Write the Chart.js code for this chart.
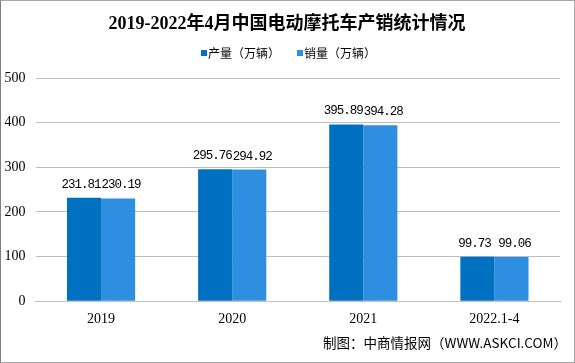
<!DOCTYPE html>
<html>
<head>
<meta charset="utf-8">
<script src="https://cdn.jsdelivr.net/npm/chart.js@4"></script>
<style>
  body { margin: 0; background: #fff; }
  #wrap { width: 573px; height: 361px; border: 1px solid #a6a6a6; border-left: 1px solid #7f7f7f; position: relative; }
</style>
</head>
<body>
<div id="wrap"><canvas id="chart" width="573" height="361"></canvas></div>
<script>
const categories = ['2019', '2020', '2021', '2022.1-4'];
const production = [231.81, 295.76, 395.89, 99.73];
const sales = [230.19, 294.92, 394.28, 99.06];
const seriesNames = ['产量（万辆）', '销量（万辆）'];
const seriesColors = ['#0070c0', '#2e8fe0'];
const yTicks = [0, 100, 200, 300, 400, 500];
const titleText = '2019-2022年4月中国电动摩托车产销统计情况';

const serif = '"Liberation Serif", "Noto Sans CJK SC", serif';
const mono = '"Liberation Mono", "DejaVu Sans Mono", monospace';
const cjk = '"Noto Sans CJK SC", sans-serif';

// title + legend drawn by hand so they sit where the original has them
const header = {
    id: 'header',
    afterDraw(chart) {
        const ctx = chart.ctx;
        ctx.save();
        ctx.fillStyle = '#000';
        ctx.textAlign = 'center';
        ctx.textBaseline = 'middle';
        ctx.font = 'bold 18px ' + serif;
        ctx.fillText(titleText, 286, 23);

        ctx.font = '12px ' + cjk;
        ctx.textAlign = 'left';
        let x = 200;
        seriesNames.forEach((name, i) => {
            ctx.fillStyle = seriesColors[i];
            ctx.fillRect(x, 49, 6, 6);
            ctx.fillStyle = '#000';
            ctx.fillText(name, x + 7, 52);
            x += 96;
        });
        ctx.restore();
    }
};

// value labels above each bar
const valueLabels = {
    id: 'valueLabels',
    afterDatasetsDraw(chart) {
        const ctx = chart.ctx;
        ctx.save();
        ctx.font = '12.5px ' + mono;
        ctx.letterSpacing = '-1px';
        ctx.fillStyle = '#000';
        ctx.textAlign = 'center';
        ctx.textBaseline = 'alphabetic';
        chart.data.datasets.forEach((ds, i) => {
            const shift = i === 0 ? -3 : 3;
            chart.getDatasetMeta(i).data.forEach((bar, j) => {
                ctx.fillText(ds.data[j].toFixed(2), bar.x + shift, bar.y - 10);
            });
        });
        ctx.restore();
    }
};

// source note bottom right
const sourceNote = {
    id: 'sourceNote',
    afterDraw(chart) {
        const ctx = chart.ctx;
        ctx.save();
        ctx.font = '13.5px ' + cjk;
        ctx.fillStyle = '#000';
        ctx.textAlign = 'right';
        ctx.textBaseline = 'middle';
        ctx.fillText('制图：中商情报网（WWW.ASKCI.COM）', 566, 342);
        ctx.restore();
    }
};

new Chart(document.getElementById('chart'), {
    type: 'bar',
    data: {
        labels: categories,
        datasets: [{
            label: seriesNames[0],
            data: production,
            backgroundColor: seriesColors[0]
        }, {
            label: seriesNames[1],
            data: sales,
            backgroundColor: seriesColors[1]
        }]
    },
    options: {
        responsive: false,
        animation: false,
        layout: { padding: { left: 0, right: 14, top: 77, bottom: 32 } },
        datasets: {
            bar: { categoryPercentage: 0.52, barPercentage: 1.0 }
        },
        plugins: {
            title: { display: false },
            legend: { display: false },
            tooltip: { enabled: false }
        },
        scales: {
            x: {
                grid: { display: false },
                border: { color: '#bfbfbf' },
                ticks: { color: '#000', font: { family: serif, size: 14 }, padding: 2 }
            },
            y: {
                min: 0,
                max: 500,
                afterBuildTicks(axis) { axis.ticks = yTicks.map(v => ({ value: v })); },
                afterFit(axis) { axis.width = 34.5; },
                grid: { color: '#bfbfbf', drawTicks: false },
                border: { display: false },
                ticks: { color: '#000', font: { family: serif, size: 14 }, padding: 10 }
            }
        }
    },
    plugins: [header, valueLabels, sourceNote]
});
</script>
</body>
</html>
